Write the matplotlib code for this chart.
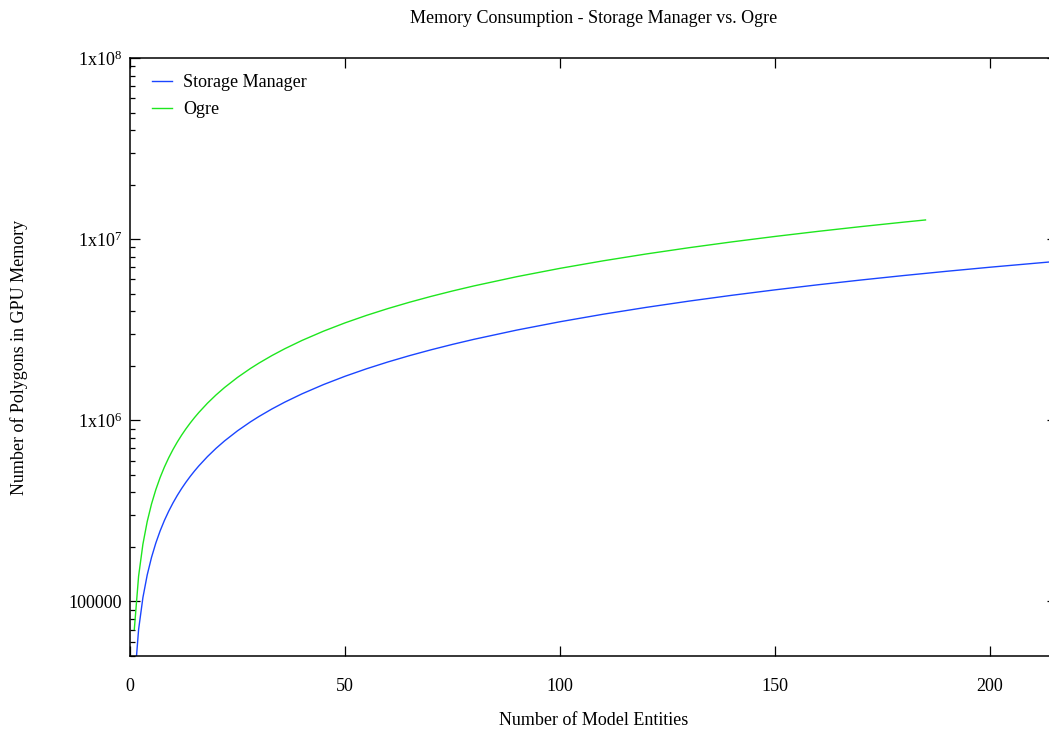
import matplotlib
matplotlib.use("Agg")
import matplotlib.pyplot as plt
from matplotlib.ticker import FixedLocator, LogLocator, NullFormatter, FixedFormatter

# Data
sm_entities = [1, 2, 3, 4, 5, 6, 7, 8, 9, 10, 11, 12, 13, 14, 15, 16, 18, 20, 22, 25,
               28, 30, 33, 36, 40, 45, 50, 55, 60, 65, 70, 75, 80, 90, 100, 110, 120,
               130, 140, 150, 160, 170, 180, 190, 200, 216]
sm_polygons = [35000, 70000, 105000, 140000, 175000, 210000, 245000, 280000, 315000,
               350000, 385000, 420000, 455000, 490000, 525000, 560000, 630000, 700000,
               770000, 875000, 980000, 1050000, 1155000, 1260000, 1400000, 1575000,
               1750000, 1925000, 2100000, 2275000, 2450000, 2625000, 2800000, 3150000,
               3500000, 3850000, 4200000, 4550000, 4900000, 5250000, 5600000, 5950000,
               6300000, 6650000, 7000000, 7560000]

ogre_entities = [1, 2, 3, 4, 5, 6, 7, 8, 9, 10, 11, 12, 13, 14, 15, 16, 18, 20, 22, 25,
                 28, 30, 33, 36, 40, 45, 50, 55, 60, 65, 70, 75, 80, 90, 100, 110, 120,
                 130, 140, 150, 160, 170, 180, 185]
ogre_polygons = [70000, 138000, 207000, 276000, 345000, 414000, 483000, 552000,
                 621000, 690000, 759000, 828000, 897000, 966000, 1035000, 1104000,
                 1242000, 1380000, 1518000, 1725000, 1932000, 2070000, 2277000,
                 2484000, 2760000, 3105000, 3450000, 3795000, 4140000, 4485000,
                 4830000, 5175000, 5520000, 6210000, 6900000, 7590000, 8280000,
                 8970000, 9660000, 10350000, 11040000, 11730000, 12420000, 12765000]

x_ticks = [0, 50, 100, 150, 200]
y_ticks = [1e5, 1e6, 1e7, 1e8]
y_tick_labels = ["100000", "1x10$^{6}$", "1x10$^{7}$", "1x10$^{8}$"]

plt.rcParams['font.family'] = ['Liberation Serif', 'DejaVu Serif']
plt.rcParams['mathtext.fontset'] = 'custom'
plt.rcParams['mathtext.rm'] = 'Liberation Serif'
plt.rcParams['mathtext.it'] = 'Liberation Serif:italic'

fig = plt.figure(figsize=(10.49, 7.31), dpi=100)
W, H = 1049, 731
left, right, top, bottom = 130, 1056.65, 58, 656
ax = fig.add_axes([left / W, (H - bottom) / H, (right - left) / W, (bottom - top) / H])

ax.plot(sm_entities, sm_polygons, color='#1a45ff', lw=1.0, label='Storage Manager')
ax.plot(ogre_entities, ogre_polygons, color='#1ee61e', lw=1.0, label='Ogre')

ax.set_yscale('log')
ax.set_xlim(0, 215.5)
ax.set_ylim(5e4, 1e8)

ax.xaxis.set_major_locator(FixedLocator(x_ticks))
ax.yaxis.set_major_locator(FixedLocator(y_ticks))
ax.yaxis.set_major_formatter(FixedFormatter(y_tick_labels))
ax.yaxis.set_minor_locator(LogLocator(base=10, subs=[2, 3, 4, 5, 6, 7, 8, 9]))
ax.yaxis.set_minor_formatter(NullFormatter())

ax.tick_params(axis='both', which='major', direction='in', length=7, width=0.9,
               top=True, right=True, labelsize=13)
ax.tick_params(axis='y', which='minor', direction='in', length=3.6, width=0.9,
               right=True)
ax.tick_params(axis='y', which='major', pad=6)
ax.tick_params(axis='x', which='major', pad=16)

for s in ax.spines.values():
    s.set_linewidth(1.1)

ax.set_title('Memory Consumption - Storage Manager vs. Ogre', fontsize=13, pad=25)
ax.set_xlabel('Number of Model Entities', fontsize=13, labelpad=12)
ax.set_ylabel('Number of Polygons in GPU Memory', fontsize=13, labelpad=29)

axw, axh = right - left, bottom - top
leg = ax.legend(loc='upper left', frameon=False, fontsize=13, handlelength=1.1,
                handletextpad=0.6, labelspacing=0.55, borderaxespad=0.0,
                borderpad=0.4, bbox_to_anchor=(15 / axw, 1 - 9 / axh))

fig.savefig('out.png', dpi=100)
